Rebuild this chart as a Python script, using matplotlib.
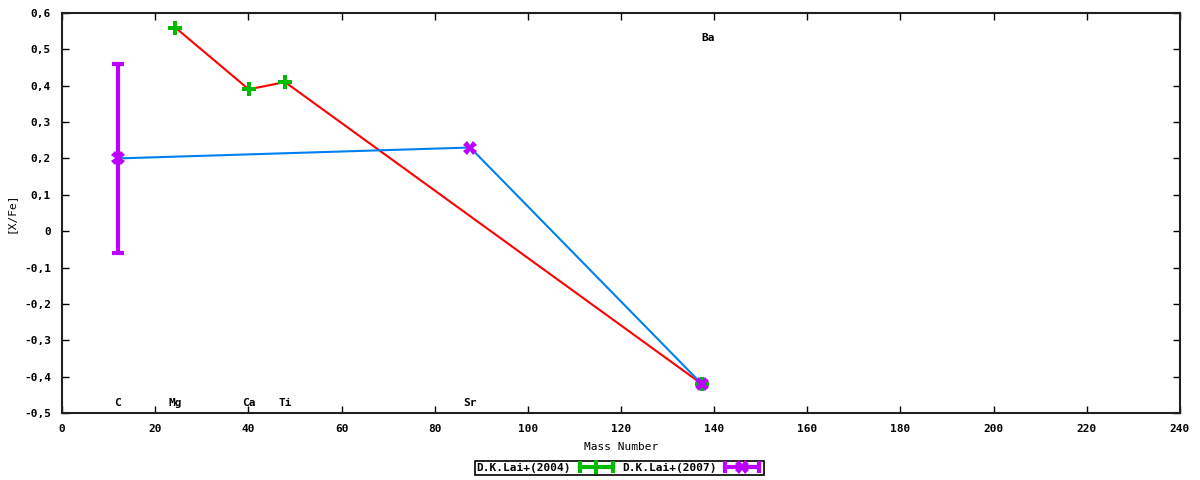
import matplotlib
matplotlib.use("Agg")
import matplotlib.pyplot as plt
from matplotlib.lines import Line2D
from matplotlib.legend_handler import HandlerLine2D, HandlerTuple
import numpy as np

# D.K.Lai+(2004)
mass_2004 = [24.305, 40.078, 47.867, 137.327]
xfe_2004 = [0.56, 0.39, 0.41, -0.42]

# D.K.Lai+(2007)
mass_2007 = [12.011, 87.62, 137.327]
xfe_2007 = [0.20, 0.23, -0.42]
err_2007 = [0.26, 0.0, 0.0]

# element labels
elem_names = ["C", "Mg", "Ca", "Ti", "Sr", "Ba"]
elem_mass = [12.011, 24.305, 40.078, 47.867, 87.62, 138.7]
elem_y = [-0.473, -0.473, -0.473, -0.473, -0.473, 0.531]

xticks = np.arange(0, 241, 20)
yticks = np.round(np.arange(-0.5, 0.61, 0.1), 1)

plt.rcParams['font.family'] = ['DejaVu Sans Mono']
plt.rcParams['font.weight'] = 'bold'
plt.rcParams['font.size'] = 8

fig = plt.figure(figsize=(12, 4.8), dpi=100)
ax = fig.add_axes([0.0517, 0.1396, 0.9316, 0.8334])

green = "#00bb00"
purple = "#bb00ff"

ax.plot(mass_2004, xfe_2004, color="red", lw=1.5, zorder=2)
ax.plot(mass_2007, xfe_2007, color="#0080f0", lw=1.5, zorder=2)

ax.plot(mass_2004, xfe_2004, linestyle="none", marker="P", ms=10, color=green, mew=0, zorder=3)

e_idx = [i for i, e in enumerate(err_2007) if e > 0]
ax.errorbar([mass_2007[i] for i in e_idx], [xfe_2007[i] for i in e_idx],
            yerr=[err_2007[i] for i in e_idx], fmt="none", ecolor=purple,
            elinewidth=3, capsize=4, capthick=3, zorder=3)
ax.plot(mass_2007, xfe_2007, linestyle="none", marker="X", ms=10, color=purple, mew=0, zorder=4)

for name, m, yv in zip(elem_names, elem_mass, elem_y):
    ax.text(m, yv, name, ha="center", va="center", fontsize=8, fontweight="bold")

ax.set_xlim(0, 240)
ax.set_ylim(-0.5, 0.6)
ax.set_xticks(xticks)
ax.set_yticks(yticks)
ax.set_yticklabels([("%.1f" % v).replace(".", ",") if v != 0 else "0" for v in yticks])
ax.tick_params(direction="in", top=True, right=True, length=5, width=1)
ax.tick_params(axis="x", pad=8)
ax.tick_params(axis="y", pad=8)
for s in ax.spines.values():
    s.set_linewidth(1.5)
    s.set_color("#202020")

ax.set_xlabel("Mass Number", labelpad=6)
ax.set_ylabel("[X/Fe]", labelpad=6)

g_caps = Line2D([], [], color=green, lw=3, marker="|", ms=9, mew=3)
g_pt = Line2D([], [], linestyle="none", marker="P", ms=10, color=green, mew=0)
p_caps = Line2D([], [], color=purple, lw=3, marker="|", ms=9, mew=3)
p_pt = Line2D([], [], linestyle="none", marker="X", ms=10, color=purple, mew=0)
leg = fig.legend([(g_caps, g_pt), (p_caps, p_pt)], ["D.K.Lai+(2004)", "D.K.Lai+(2007)"],
                 handler_map={g_caps: HandlerLine2D(numpoints=2), p_caps: HandlerLine2D(numpoints=2),
                              g_pt: HandlerLine2D(numpoints=1), p_pt: HandlerLine2D(numpoints=1),
                              tuple: HandlerTuple(ndivide=1, pad=0)},
                 ncol=2, markerfirst=False, loc="center", bbox_to_anchor=(0.516, 0.025),
                 frameon=True, fancybox=False, edgecolor="black", framealpha=1,
                 borderpad=0.15, handlelength=3.6, handletextpad=0.5, columnspacing=0.5,
                 borderaxespad=0)
leg.get_frame().set_linewidth(1.2)

fig.savefig("out.png", dpi=100)
